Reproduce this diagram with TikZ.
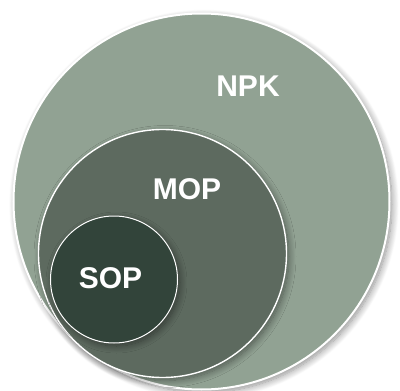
\documentclass[tikz,border=0pt]{standalone}
\usepackage{fontspec}
\setmainfont{Liberation Sans}
\usetikzlibrary{shadows.blur}
\definecolor{npkc}{HTML}{91A293}
\definecolor{mopc}{HTML}{5D6A5F}
\definecolor{sopc}{HTML}{32443A}
\tikzset{
  ring/.style={circle, inner sep=0pt, draw=white,
    blur shadow={shadow xshift=2.5pt, shadow yshift=-3pt, shadow blur steps=12, shadow blur radius=7pt, shadow opacity=45}},
  lbl/.style={text=white, font=\fontsize{30}{36}\selectfont\bfseries, inner sep=0pt}
}
\begin{document}
\begin{tikzpicture}[x=1pt,y=-1pt]
\useasboundingbox (0,0) rectangle (400,391);
\node[ring, fill=npkc, line width=2pt, minimum size=376pt] (npk) at (201.5,201.5) {};
\node[ring, fill=mopc, line width=1.4pt, minimum size=248pt] (mop) at (162.5,253.5) {};
\node[ring, fill=sopc, line width=1pt, minimum size=127pt] (sop) at (114,279.5) {};
\node[lbl] (tnpk) at (248,86) {NPK};
\node[lbl] (tmop) at (187,189.5) {MOP};
\node[lbl] (tsop) at (110.5,278.5) {SOP};
\end{tikzpicture}
\end{document}
